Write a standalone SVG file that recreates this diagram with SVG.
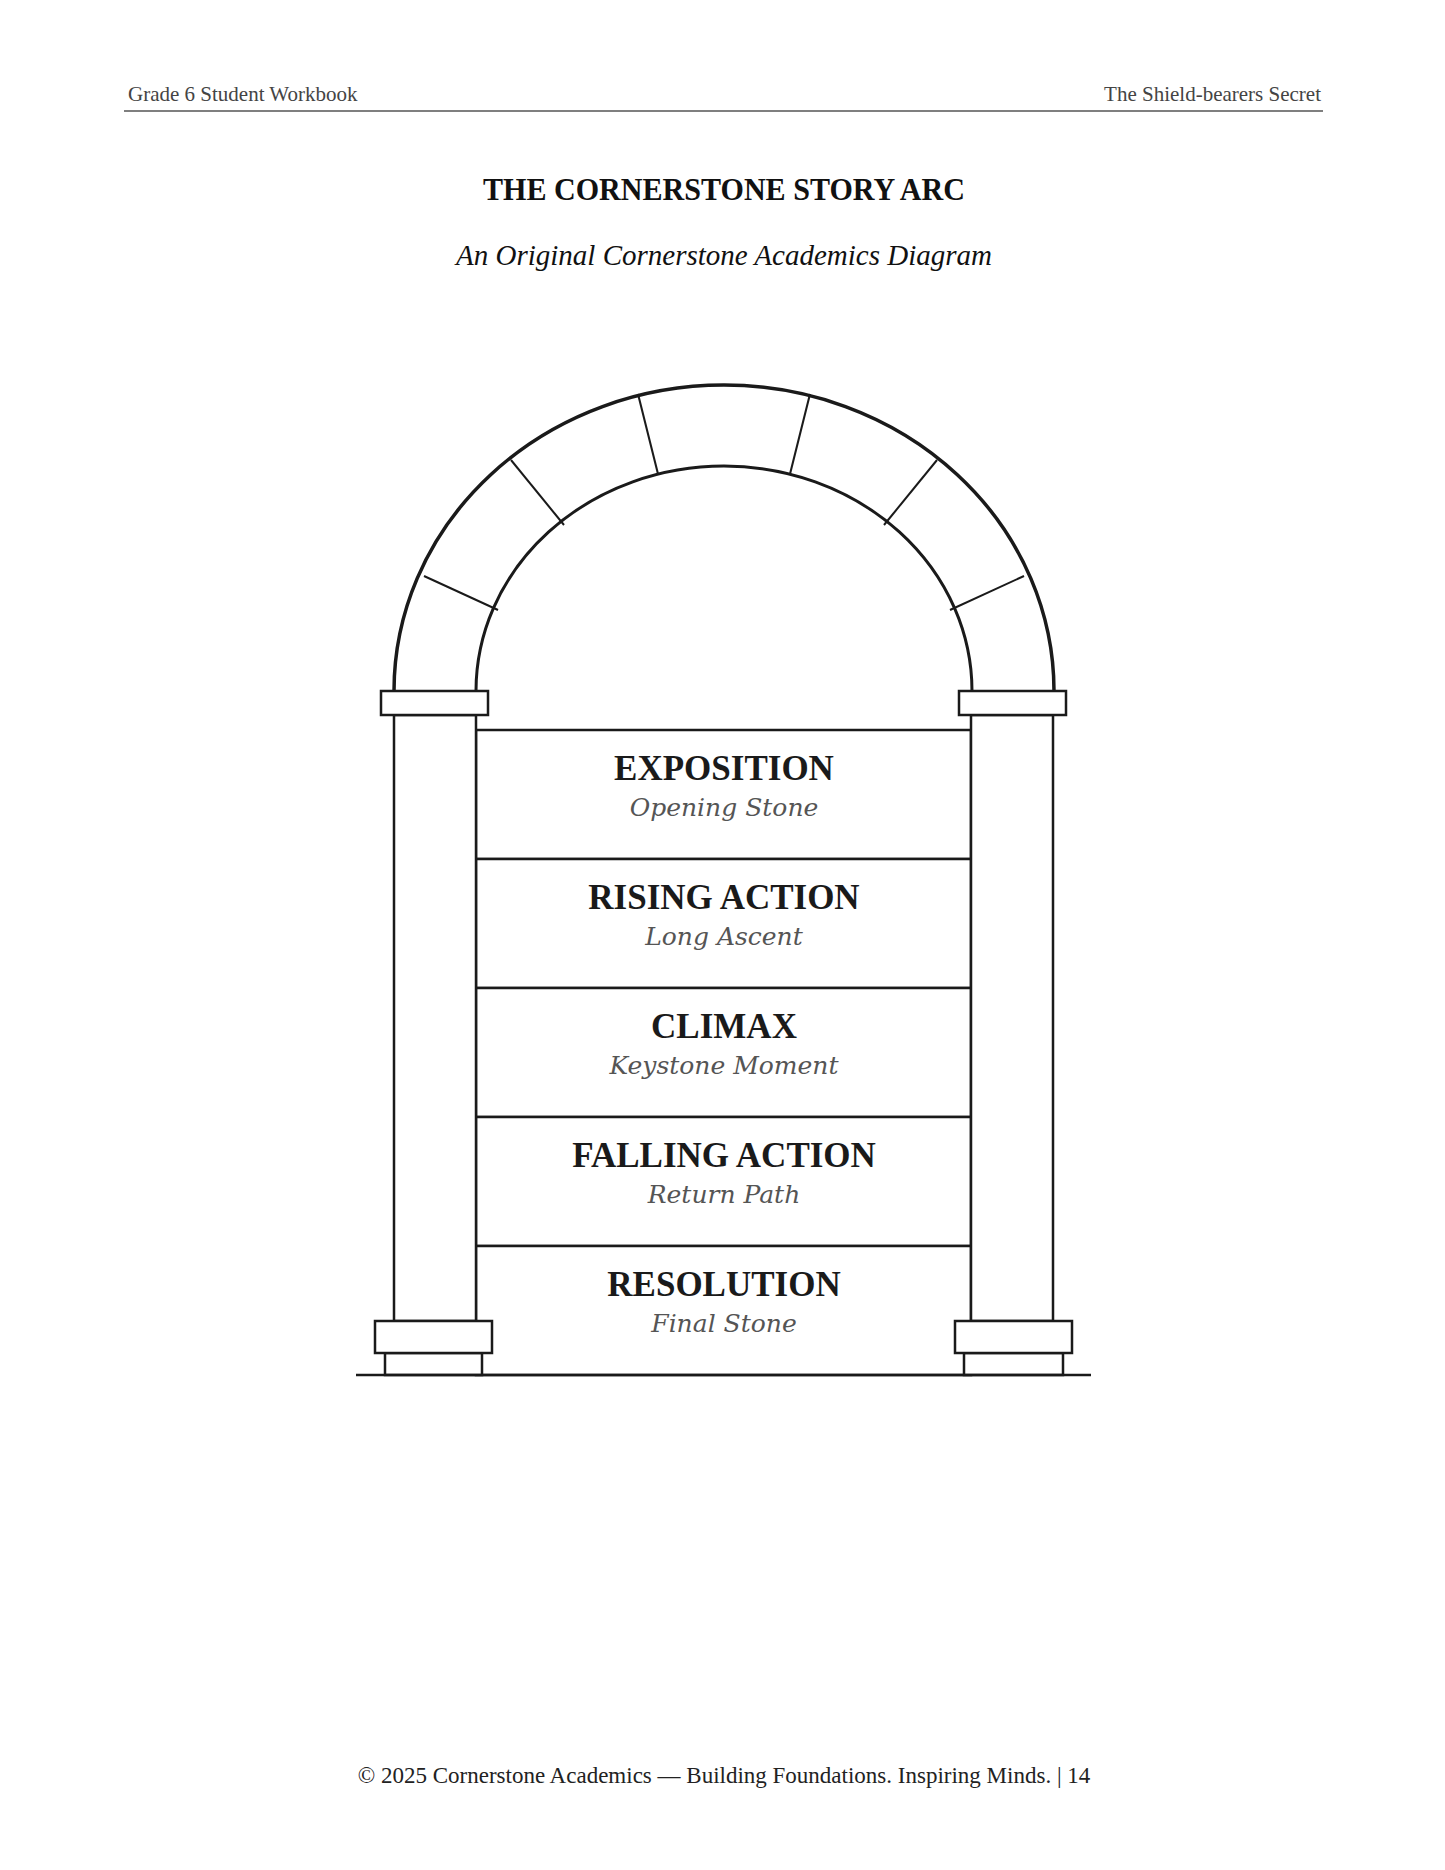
<svg xmlns="http://www.w3.org/2000/svg" width="1445" height="1870" viewBox="0 0 1445 1870">
<style>
.s{fill:#fff;stroke:#1a1a1a;stroke-width:2.5}
.l{stroke:#1a1a1a;stroke-width:2;fill:none}
.h{font-family:"Liberation Serif",serif;font-weight:bold;font-size:35px;fill:#1a1a1a;text-anchor:middle}
.sub{font-family:"DejaVu Serif","Liberation Serif",serif;font-style:italic;font-size:25px;fill:#555;text-anchor:middle}
.hd{font-family:"Liberation Serif",serif;font-size:21px;fill:#444}
</style>
<rect width="1445" height="1870" fill="#fff"/>
<g id="header">
<text class="hd" x="128" y="101">Grade 6 Student Workbook</text>
<text class="hd" x="1321" y="101" text-anchor="end">The Shield-bearers Secret</text>
<line x1="124" y1="111" x2="1323" y2="111" stroke="#555" stroke-width="1.5"/>
</g>
<g id="title">
<text x="724" y="200" font-family="'Liberation Serif',serif" font-weight="bold" font-size="31" text-anchor="middle" fill="#111" textLength="482" lengthAdjust="spacingAndGlyphs">THE CORNERSTONE STORY ARC</text>
<text x="724" y="265" font-family="'Liberation Serif',serif" font-style="italic" font-size="29" text-anchor="middle" fill="#111">An Original Cornerstone Academics Diagram</text>
</g>
<g id="exposition"><rect class="s" x="476" y="730" width="495" height="129"/><text class="h" x="724" y="780">EXPOSITION</text><text class="sub" x="724" y="816">Opening Stone</text></g>
<g id="rising-action"><rect class="s" x="476" y="859" width="495" height="129"/><text class="h" x="724" y="909">RISING ACTION</text><text class="sub" x="724" y="945">Long Ascent</text></g>
<g id="climax"><rect class="s" x="476" y="988" width="495" height="129"/><text class="h" x="724" y="1038">CLIMAX</text><text class="sub" x="724" y="1074">Keystone Moment</text></g>
<g id="falling-action"><rect class="s" x="476" y="1117" width="495" height="129"/><text class="h" x="724" y="1167">FALLING ACTION</text><text class="sub" x="724" y="1203">Return Path</text></g>
<g id="resolution"><rect class="s" x="476" y="1246" width="495" height="129"/><text class="h" x="724" y="1296">RESOLUTION</text><text class="sub" x="724" y="1332">Final Stone</text></g>
<g id="arch">
<path d="M394 691 A330 306 0 0 1 1054 691" fill="none" stroke="#1a1a1a" stroke-width="3.5"/>
<path d="M476 691 A248 225 0 0 1 972 691" fill="none" stroke="#1a1a1a" stroke-width="3"/>
<line class="l" x1="424" y1="576" x2="498" y2="610"/>
<line class="l" x1="511" y1="460" x2="564" y2="525"/>
<line class="l" x1="638" y1="394" x2="658" y2="474"/>
<line class="l" x1="810" y1="394" x2="790" y2="474"/>
<line class="l" x1="937" y1="460" x2="884" y2="525"/>
<line class="l" x1="1024" y1="576" x2="950" y2="610"/>
</g>
<g id="left-column">
<rect class="s" x="394" y="715" width="82" height="606"/>
<rect class="s" x="381" y="691" width="107" height="24"/>
<rect class="s" x="385" y="1353" width="97" height="22"/>
<rect class="s" x="375" y="1321" width="117" height="32"/>
</g>
<g id="right-column">
<rect class="s" x="971" y="715" width="82" height="606"/>
<rect class="s" x="959" y="691" width="107" height="24"/>
<rect class="s" x="964" y="1353" width="99" height="22"/>
<rect class="s" x="955" y="1321" width="117" height="32"/>
</g>
<g id="connectors"><line x1="356" y1="1375" x2="1091" y2="1375" stroke="#1a1a1a" stroke-width="2.5"/></g>
<g id="footer"><text x="724" y="1783" font-family="'Liberation Serif',serif" font-size="23" text-anchor="middle" fill="#222">© 2025 Cornerstone Academics — Building Foundations. Inspiring Minds. | 14</text></g>
</svg>
